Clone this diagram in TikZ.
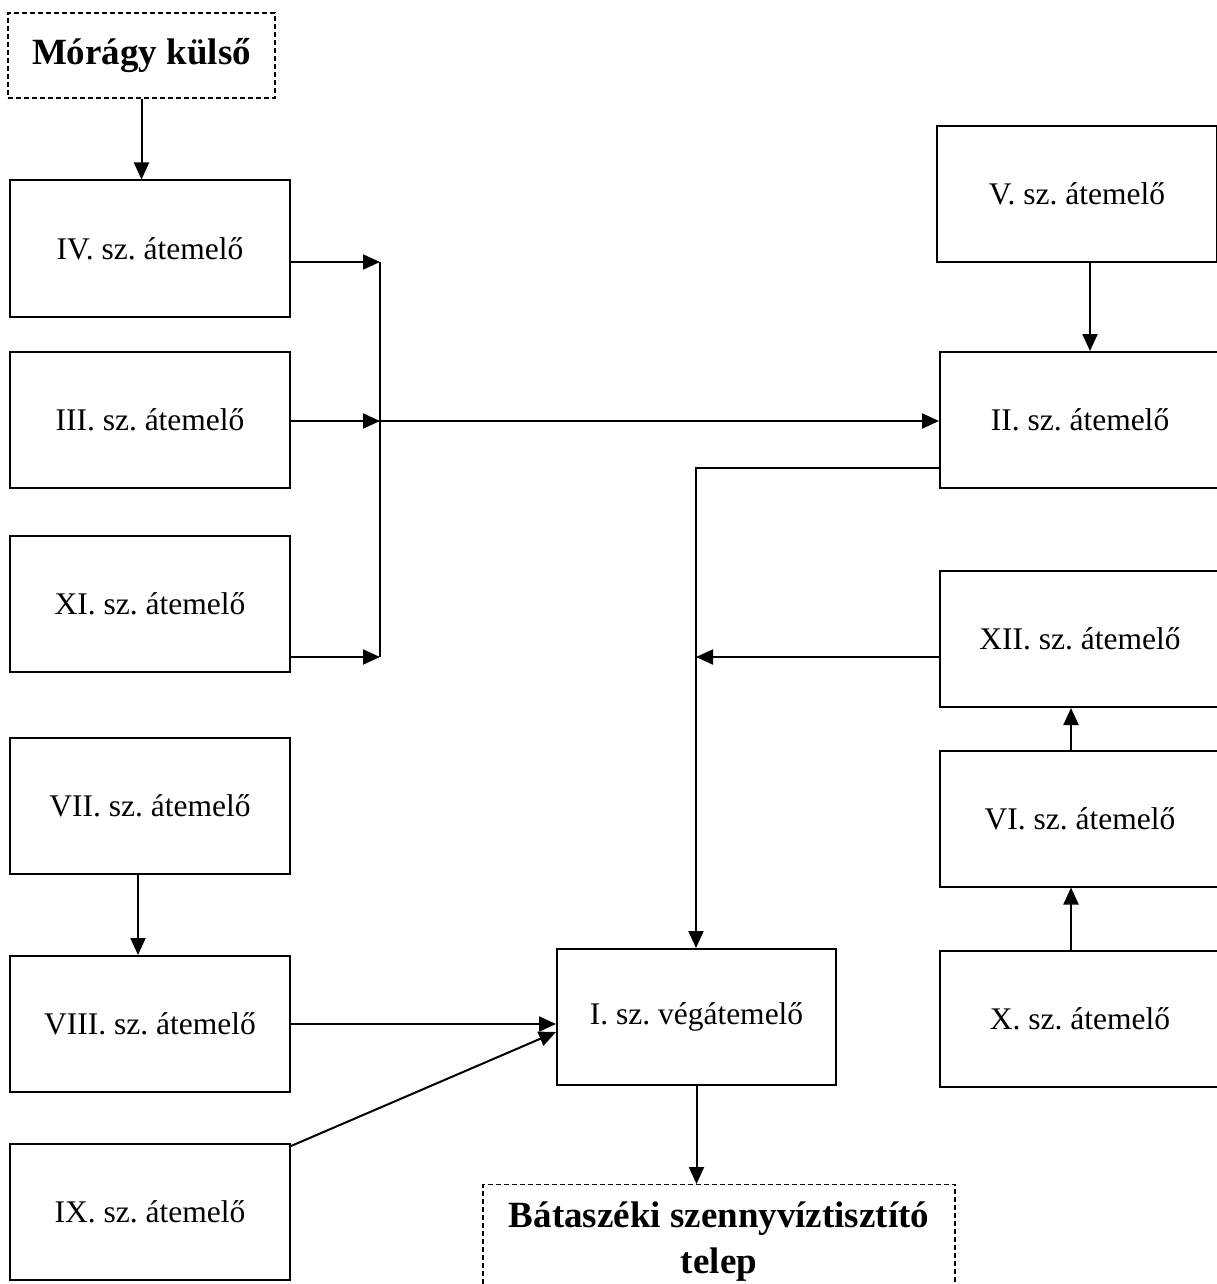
\documentclass[tikz,border=0pt]{standalone}
\usepackage{fontspec}
\setmainfont{Liberation Serif}
\usetikzlibrary{arrows.meta,positioning,calc}
\frenchspacing

\begin{document}
\begin{tikzpicture}[x=1pt,y=-1pt,
  box/.style={draw,line width=2pt,minimum width=280pt,minimum height=136pt,align=center,font=\fontsize{31.5}{36}\selectfont},
  endbox/.style={draw,dashed,dash pattern=on 5pt off 3pt,line width=1.3pt,align=center,font=\fontsize{37}{46}\selectfont\bfseries},
  flow/.style={-{Triangle[length=17pt,width=15pt]},line width=2pt}]
  \useasboundingbox (0,0) rectangle (1216,1284);
  \node[endbox,minimum width=267pt,minimum height=85pt] (morag) at (141.5,55.5) {Mórágy külső};
  \node[box] (at4) at (150,248.5) {IV. sz. átemelő};
  \node[box] (at3) at (150,420) {III. sz. átemelő};
  \node[box] (at11) at (150,604) {XI. sz. átemelő};
  \node[box] (at7) at (150,805.5) {VII. sz. átemelő};
  \node[box] (at8) at (150,1024) {VIII. sz. átemelő};
  \node[box] (at9) at (150,1212) {IX. sz. átemelő};
  \node[box] (at5) at (1077,194) {V. sz. átemelő};
  \node[box] (at2) at (1080,420) {II. sz. átemelő};
  \node[box] (at12) at (1080,639) {XII. sz. átemelő};
  \node[box] (at6) at (1080,818.5) {VI. sz. átemelő};
  \node[box] (at10) at (1080,1018.5) {X. sz. átemelő};
  \node[box,minimum width=279pt] (veg) at (696.5,1017) {I. sz. végátemelő};
  \node[endbox,anchor=north,minimum width=472pt,inner ysep=17pt] (telep) at (719,1184) {Bátaszéki szennyvíztisztító\\telep};
  % gyujtovezetek
  \coordinate (bt) at (380,262);
  \coordinate (bm) at (380,421);
  \coordinate (bb) at (380,657);
  \coordinate (jn) at (696,468);
  \coordinate (xa) at (696,657);
  \draw[flow] (morag.south) -- (morag.south |- at4.north);
  \draw[flow] (at4.east |- bt) -- (bt);
  \draw[flow] (at3.east |- bm) -- (bm);
  \draw[flow] (at11.east |- bb) -- (bb);
  \draw[line width=2pt] (bt) -- (bb);
  \draw[flow] (bm) -- (bm -| at2.west);
  \draw[flow] ([xshift=13pt]at5.south) -- ([xshift=13pt]at5.south |- at2.north);
  \draw[flow] (jn -| at2.west) -- (jn) -- (jn |- veg.north);
  \draw[flow] (xa -| at12.west) -- (xa);
  \draw[flow] ([xshift=-9pt]at10.north) -- ([xshift=-9pt]at6.south);
  \draw[flow] ([xshift=-9pt]at6.north) -- ([xshift=-9pt]at12.south);
  \draw[flow] ([xshift=-12pt]at7.south) -- ([xshift=-12pt]at8.north);
  \draw[flow] (at8.east) -- (at8.east -| veg.west);
  \draw[flow] ([yshift=-3pt]at9.north east) -- ([yshift=-15pt]veg.west);
  \draw[flow] (veg.south) -- (veg.south |- telep.north);
\end{tikzpicture}
\end{document}
